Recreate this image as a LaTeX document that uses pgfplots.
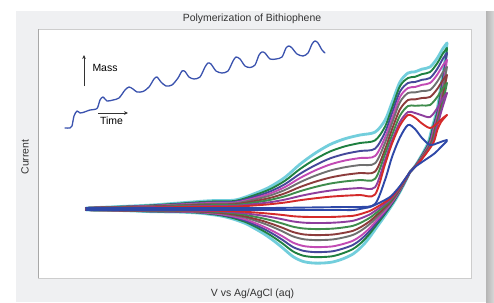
\documentclass[border=0pt]{standalone}
\usepackage{pgfplots}
\usepackage{pgfplotstable}
\pgfplotsset{compat=1.18}
\usepackage{fontspec}
\setmainfont{Liberation Sans}
\usetikzlibrary{arrows.meta}
\definecolor{panel}{HTML}{EFF0F2}
\definecolor{shA}{HTML}{B5B5B5}
\definecolor{shB}{HTML}{D8D8D8}
\definecolor{frame}{HTML}{CDCDCD}
\definecolor{frameL}{HTML}{A8A8A8}
\definecolor{txt}{HTML}{333333}
\definecolor{cA}{HTML}{2E48A8}
\definecolor{cB}{HTML}{D42A2A}
\definecolor{cC}{HTML}{8E3E9E}
\definecolor{cD}{HTML}{3E8C4C}
\definecolor{cE}{HTML}{8C3C3C}
\definecolor{cF}{HTML}{707070}
\definecolor{cG}{HTML}{C24AB4}
\definecolor{cH}{HTML}{45489A}
\definecolor{cI}{HTML}{1E8040}
\definecolor{cJ}{HTML}{72CEDC}
\definecolor{massc}{HTML}{3A52AE}

\pgfplotstableread{
x c1 c2 c3 c4 c5 c6 c7 c8 c9 c10
86 208 208 208 208 208 208 208 208 208 208
120 208 207.7 207.6 207.4 207.3 207.1 207 206.9 206.7 206.5
150 208 207.5 207.2 206.9 206.6 206.3 206 205.7 205.4 205.1
180 208 207.1 206.6 206 205.6 205 204.5 204 203.5 202.9
210 208 206.7 206 205.2 204.5 203.7 203 202.3 201.5 200.7
235 208 206.6 205.8 204.9 204.2 203.3 202.5 201.7 200.9 200
255 208 205.4 204 202.4 201 199.4 198 196.6 195 193.4
270 208 204.2 202.2 199.9 197.9 195.5 193.5 191.5 189.2 186.8
285 207.8 202.5 199.6 196.2 193.3 189.9 187 184.1 180.7 177.3
300 207.6 200.2 196 191.2 187 182.2 178 173.8 169 164.2
315 207.4 198.3 193 187 181.8 175.8 170.5 165.3 159.3 153.3
330 207.2 196.7 190.6 183.6 177.6 170.6 164.5 158.4 151.5 144.5
345 207 195.7 189 181.4 174.8 167.2 160.5 153.9 146.3 138.7
360 207 195 188 180 173 165 158 151 143 135
375 204 194.5 187.2 178.9 171.6 163.3 156 148.7 140.4 132.1
385 180 164.3 160.1 154.1 149.4 142.9 137.6 132.3 126.7 120.3
392 157 143.6 140.6 135.2 129.4 123.2 118.6 113.2 108 102.6
400 137.3 125.3 121.8 115.5 109.3 102.1 96.8 91.5 86.1 81.9
408 125 115 112 106 100 93 88 83 78 73
415 129 117.6 113 105.8 99.4 92.4 87 82 76.8 71.8
422 138 123.5 115.3 105.4 98 91 84.8 79.8 74.1 69.1
430 145 128 117 105 97 90 83 78 72 67
437 143.3 123.5 108.6 97.3 89.3 82 75 69.3 63.6 58.6
443 141.1 117.9 98.3 87.8 79.8 72 65.1 58.5 53.3 48.3
447 140 115 93 83 75 67 60 53 48 43
}\fwd

\pgfplotstableread{
x c1 c2 c3 c4 c5 c6 c7 c8 c9 c10
410 172 172 172 172 172 172 172 172 172 172
405 179 179.4 179.8 180.1 180.5 180.8 181.2 181.5 181.8 182.2
400 186 186.8 187.4 188.1 188.8 189.3 190.1 190.6 191.2 191.8
395 192 193.1 194.1 195 196 196.8 197.9 198.7 199.5 200.5
390 197 198.5 199.7 201 202.3 203.3 204.8 205.8 206.9 208.1
383 201 203.3 205.3 207.3 209.3 210.9 213.2 214.9 216.5 218.5
377 204 207 209.6 212.2 214.8 216.9 219.9 222.1 224.2 226.8
370 207 210.9 214.3 217.6 221 223.8 227.7 230.5 233.3 236.7
365 208 212.6 216.6 220.5 224.5 227.8 232.4 235.7 239 243
360 209 214.2 218.6 223.1 227.5 231.2 236.4 240.1 243.8 248.2
353 210 215.8 220.8 225.8 230.8 234.9 240.7 244.9 249 254
343 210 216.4 222 227.5 233 237.6 244 248.6 253.2 258.8
333 210 216.9 222.7 228.6 234.5 239.4 246.3 251.2 256.1 261.9
323 210 217 223 229 235 240 247 252 257 263
313 210 217 223 229 235 240 247 252 257 263
303 210 216.8 222.6 228.4 234.3 239.1 245.9 250.7 255.6 261.4
293 210 216.2 221.4 226.7 232 236.4 242.6 247 251.4 256.6
283 210 215 219.4 223.7 228 231.6 236.6 240.2 243.8 248.2
273 210 214 217.4 220.8 224.3 227.1 231.1 233.9 236.8 240.2
263 210 213.1 215.7 218.4 221 223.2 226.3 228.5 230.7 233.3
253 210 212.3 214.3 216.3 218.3 219.9 222.2 223.9 225.5 227.5
245 210 211.8 213.3 214.8 216.3 217.5 219.3 220.5 221.8 223.3
233 210 211.2 212.2 213.2 214.3 215.1 216.3 217.1 218 219
220 210 210.8 211.4 212.1 212.8 213.3 214.1 214.6 215.2 215.8
200 210 210.4 210.8 211.1 211.5 211.8 212.2 212.5 212.8 213.2
180 210 210.3 210.5 210.8 211 211.2 211.5 211.7 211.9 212.1
150 210 210.2 210.4 210.6 210.8 210.9 211.1 211.3 211.4 211.6
120 210 210.1 210.1 210.2 210.3 210.3 210.4 210.4 210.5 210.5
86 210 210 210 210 210 210 210 210 210 210
}\low

\newcommand{\cycle}[3]{%
  \addplot[#2] table[x=x,y=#1]{\fwd};
  \addplot[#2] coordinates {#3};
  \addplot[#2] table[x=x,y=#1]{\low};
}

\begin{document}
\begin{tikzpicture}
\begin{scope}[x=1bp,y=-1bp]
\path[use as bounding box] (0,0) rectangle (494,302);
\fill[white] (0,0) rectangle (494,302);
\fill[panel] (16,11) rectangle (486,302);
\shade[left color=shA, right color=shB] (486,11) rectangle (494,302);
\node[text=txt, font=\fontsize{10.5}{12}\selectfont] at (252,19) {Polymerization of Bithiophene};
\node[text=txt, font=\fontsize{10.5}{12}\selectfont] at (252.5,294) {V vs Ag/AgCl (aq)};
\node[text=txt, font=\fontsize{10.5}{12}\selectfont, rotate=90] at (25,157) {Current};
\end{scope}
\begin{axis}[
  at={(38bp,-278bp)}, anchor=south west,
  width=433bp, height=249bp, scale only axis,
  xmin=38, xmax=471, ymin=29, ymax=278, y dir=reverse,
  ticks=none,
  axis line style={draw=frame, line width=0.6bp},
  axis background/.style={fill=white},
  clip=true,
  every axis plot/.append style={smooth, line width=1.9bp, line join=round, line cap=round},
]
\cycle{c10}{cJ, line width=2.8bp}{(447,43) (445,60) (441,85) (437,110) (432,128) (428,143) (420,158) (415,166) (410,172)}
\cycle{c9}{cI}{(447,48) (445.7,60) (441.7,85) (437.7,110) (432.7,128) (428.7,143) (420.3,158) (415.1,166) (410,172)}
\cycle{c8}{cH}{(447,53) (442.3,85) (438.3,110) (433.3,128) (429.3,143) (420.7,158) (415.2,166) (410,172)}
\cycle{c7}{cG}{(447,60) (443,85) (439,110) (434,128) (430,143) (421,158) (415.3,166) (410,172)}
\cycle{c6}{cF}{(447,67) (443.7,85) (439.7,110) (434.7,128) (430.7,143) (421.3,158) (415.4,166) (410,172)}
\cycle{c5}{cE}{(447,75) (444.5,88) (440.3,110) (435.3,128) (431.3,143) (421.7,158) (415.5,166) (410,172)}
\cycle{c4}{cD}{(447,83) (444,97) (441,110) (436,128) (432,143) (422,158) (415.6,166) (410,172)}
\cycle{c3}{cC}{(447,93) (441.7,110) (436.7,128) (432.7,143) (422.3,158) (415.7,166) (410,172)}
\cycle{c2}{cB}{(447,115) (441,122) (437.3,130) (433.3,143) (422.7,158) (415.8,166) (410,172)}
\cycle{c1}{cA}{(447,141) (441,147) (435,153) (428,158) (422,162) (415,167) (410,172)}

% mass inset
\addplot[massc, line width=1.3bp, tension=0.45] coordinates {
(65,128) (70,128) (72,126) (74,116) (77,111) (80,113) (83,112.5) (90,110) (97,108.5)
(100,100) (103,97) (107,101) (113,100) (119,98) (125,90) (129,87) (133,89) (137,92)
(143,91.5) (149,87) (154,79) (157,77) (161,82) (166,86) (172,85) (178,78) (182,71)
(185,71.5) (189,77) (194,79) (200,77) (205,67) (208,63) (211,64) (216,71) (222,73)
(228,71) (233,61) (236,57) (240,59) (245,66) (250,67.5) (255,65) (259,55) (262,52)
(265,53) (270,59) (276,59) (282,57) (286,48) (289,46) (292,48) (297,54) (303,56)
(308,53) (312,44) (315,41) (318,43) (322,50) (325,53)};
\draw[txt, line width=0.6bp, -{Stealth[length=4bp,width=3.6bp]}] (axis cs:84,86) -- (axis cs:84,55);
\draw[txt, line width=0.6bp, -{Stealth[length=4bp,width=3.6bp]}] (axis cs:98,113) -- (axis cs:128,113);
\node[text=black, font=\fontsize{10.5}{12}\selectfont] at (axis cs:105,68) {Mass};
\node[text=black, font=\fontsize{10.5}{12}\selectfont] at (axis cs:111.5,121) {Time};
\end{axis}
\draw[frameL, line width=0.7bp] (38bp,-29bp) -- (38bp,-278bp);
\end{tikzpicture}
\end{document}
